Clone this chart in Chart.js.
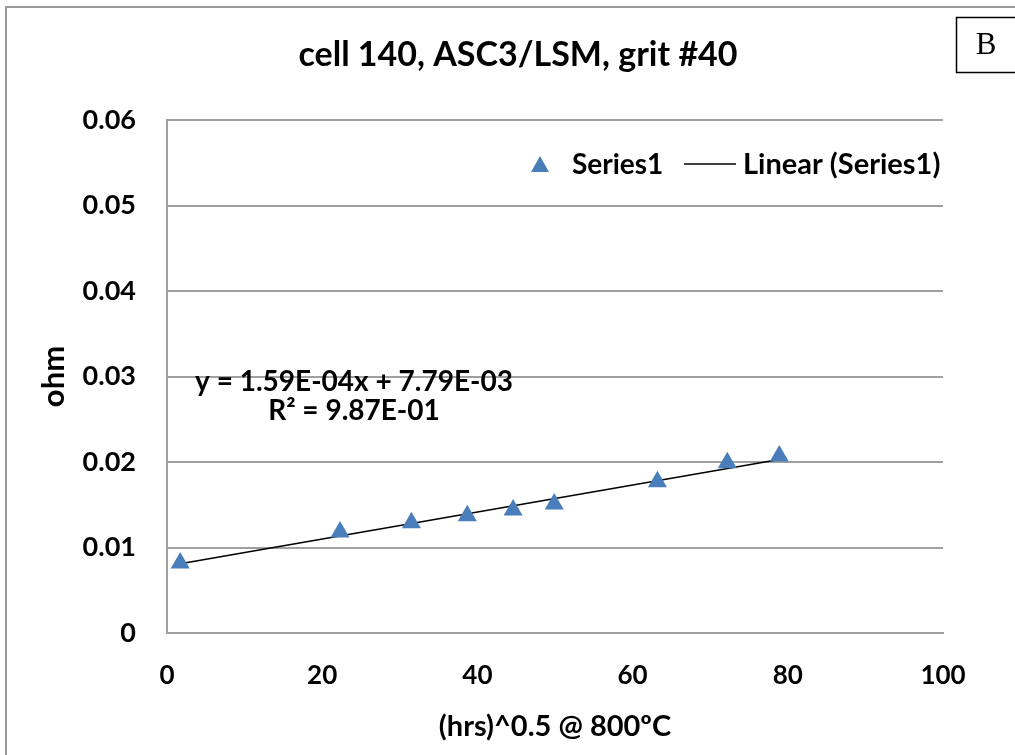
<!DOCTYPE html>
<html>
<head>
<meta charset="utf-8">
<script src="https://cdn.jsdelivr.net/npm/chart.js@4.4.0/dist/chart.umd.min.js"></script>
<style>
  html, body { margin: 0; padding: 0; background: #fff; }
  #wrap { width: 1015px; height: 755px; }
</style>
</head>
<body>
<div id="wrap"><canvas id="myChart"></canvas></div>
<script>
// values
var hours = [1.7, 22.3, 31.5, 38.7, 44.6, 49.9, 63.2, 72.2, 78.9];
var ohms = [0.0082, 0.0118, 0.0129, 0.0137, 0.0144, 0.0151, 0.0177, 0.0199, 0.0207];

var trendX = [1.7, 78.9];
var trendY = [0.0081, 0.0203];

var xTicks = [0, 20, 40, 60, 80, 100];
var yTicks = [0, 0.01, 0.02, 0.03, 0.04, 0.05, 0.06];

var chartTitle = 'cell 140, ASC3/LSM, grit #40';
var eqLine1 = 'y = 1.59E-04x + 7.79E-03';
var eqLine2 = 'R² = 9.87E-01';

var FONT = 'Lato, "Open Sans", sans-serif';
var blue = '#4a7ebb';
var gridGray = '#a0a0a0';

var seriesPts = hours.map(function (h, i) { return { x: h, y: ohms[i] }; });
var trendPts = trendX.map(function (h, i) { return { x: h, y: trendY[i] }; });

// frame, title, "B" box, equation and legend
var extras = {
  id: 'extras',
  afterDraw: function (chart) {
    var ctx = chart.ctx;
    ctx.save();

    // outer frame
    ctx.strokeStyle = '#9a9a9a';
    ctx.lineWidth = 2;
    ctx.strokeRect(6, 7, 1030, 780);

    // title (sits off-centre in the original)
    ctx.fillStyle = '#000';
    ctx.textAlign = 'center';
    ctx.textBaseline = 'middle';
    ctx.font = 'bold 34px ' + FONT;
    ctx.fillText(chartTitle, 518, 55);

    // B box
    ctx.fillStyle = '#fff';
    ctx.fillRect(956, 17, 70, 55);
    ctx.strokeStyle = '#000';
    ctx.lineWidth = 1.5;
    ctx.strokeRect(956.5, 17.5, 70, 55);
    ctx.fillStyle = '#000';
    ctx.font = '31px "Liberation Serif", serif';
    ctx.fillText('B', 986, 46);

    // trendline equation
    ctx.font = 'bold 28px ' + FONT;
    ctx.fillText(eqLine1, 354, 382);
    ctx.fillText(eqLine2, 354, 411);

    // legend
    var ds = chart.data.datasets;
    ctx.textAlign = 'left';
    ctx.fillStyle = ds[0].backgroundColor;
    ctx.beginPath();
    ctx.moveTo(540, 156);
    ctx.lineTo(549, 172);
    ctx.lineTo(531, 172);
    ctx.closePath();
    ctx.fill();
    ctx.fillStyle = '#000';
    ctx.fillText(ds[0].label, 572, 165);

    ctx.strokeStyle = ds[1].borderColor;
    ctx.lineWidth = 1.5;
    ctx.beginPath();
    ctx.moveTo(684, 164);
    ctx.lineTo(736, 164);
    ctx.stroke();
    ctx.font = 'bold 29px ' + FONT;
    ctx.fillText(ds[1].label, 743, 165);

    ctx.restore();
  }
};

var ctx = document.getElementById('myChart');

var chart = new Chart(ctx, {
  type: 'scatter',
  data: {
    datasets: [{
      label: 'Series1',
      data: seriesPts,
      pointStyle: 'triangle',
      pointRadius: 11,
      pointHoverRadius: 11,
      backgroundColor: blue,
      borderColor: blue,
      borderWidth: 0
    }, {
      label: 'Linear (Series1)',
      data: trendPts,
      type: 'line',
      showLine: true,
      borderColor: '#000',
      borderWidth: 1.5,
      pointRadius: 0,
      fill: false
    }]
  },
  options: {
    responsive: true,
    maintainAspectRatio: false,
    animation: false,
    layout: { padding: { left: 0, right: 72, top: 120, bottom: 0 } },
    plugins: {
      legend: { display: false },
      tooltip: { enabled: false },
      title: { display: false }
    },
    scales: {
      x: {
        type: 'linear',
        min: 0,
        max: 100,
        afterBuildTicks: function (scale) {
          scale.ticks = xTicks.map(function (v) { return { value: v }; });
        },
        afterFit: function (scale) { scale.height = 122; },
        grid: { display: false, drawTicks: false },
        border: { display: true, color: gridGray, width: 2 },
        ticks: {
          color: '#000',
          padding: 27,
          font: { family: FONT, size: 26, weight: 'bold' }
        },
        title: {
          display: true,
          text: '(hrs)^0.5 @ 800ºC',
          color: '#000',
          font: { family: FONT, size: 29, weight: 'bold' },
          padding: { top: 0, bottom: 11 }
        }
      },
      y: {
        type: 'linear',
        min: 0,
        max: 0.06,
        afterBuildTicks: function (scale) {
          scale.ticks = yTicks.map(function (v) { return { value: v }; });
        },
        afterFit: function (scale) { scale.width = 167; },
        grid: { color: gridGray, lineWidth: 2, drawTicks: false },
        border: { display: true, color: gridGray, width: 2 },
        ticks: {
          color: '#000',
          padding: 31,
          font: { family: FONT, size: 27, weight: 'bold' },
          callback: function (v) { return v === 0 ? '0' : v.toFixed(2); }
        },
        title: {
          display: true,
          text: 'ohm',
          color: '#000',
          font: { family: FONT, size: 31, weight: 'bold' },
          padding: { top: 35, bottom: 0 }
        }
      }
    }
  },
  plugins: [extras]
});
</script>
</body>
</html>
